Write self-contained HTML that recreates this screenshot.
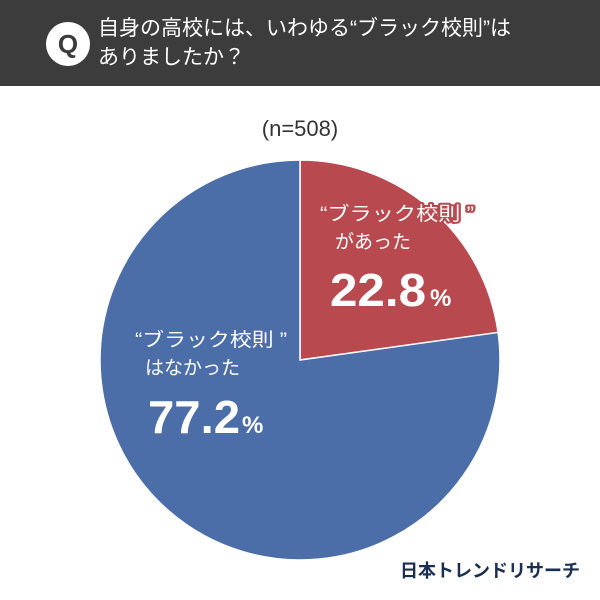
<!DOCTYPE html>
<html><head><meta charset="utf-8"><style>
body{margin:0;width:600px;height:600px;background:#fff;overflow:hidden;font-family:"Liberation Sans","Noto Sans CJK JP",sans-serif;position:relative}
.hdr{position:absolute;left:0;top:0;width:600px;height:86px;background:#3c3c3c}
.q{position:absolute;left:46px;top:22px;width:44px;height:44px;border-radius:50%;background:#fff;color:#3c3c3c;font-weight:bold;font-size:26px;text-align:center;line-height:44px}
.t{position:absolute;left:98px;top:14px;color:#fff;font-size:21px;line-height:29px}
</style></head><body>
<div class="hdr">
<div class="q">Q</div>
<div class="t">自身の高校には、いわゆる“ブラック校則”は<br>ありましたか？</div>
</div>
<svg width="600" height="600" style="position:absolute;left:0;top:0" id="c">
<text x="300" y="136" text-anchor="middle" font-size="22" fill="#333">(n=508)</text>
<g id="pie"></g>
<text x="580" y="577" text-anchor="end" font-size="18" font-weight="bold" fill="#1a2f50">日本トレンドリサーチ</text>
</svg>
<script>
const categories=["“ブラック校則”があった","“ブラック校則”はなかった"];
const values=[22.8,77.2];
const colors=["#b84a4f","#4b6ea9"];
const cx=300,cy=360,r=200;
const g=document.getElementById('pie');
const ns="http://www.w3.org/2000/svg";
const tot=values.reduce((a,b)=>a+b,0);
let a0=0;
function pt(a,rr){return [cx+rr*Math.sin(a),cy-rr*Math.cos(a)];}
values.forEach((v,i)=>{
 const a1=a0+v/tot*2*Math.PI;
 const p0=pt(a0,r),p1=pt(a1,r);
 const large=(a1-a0)>Math.PI?1:0;
 const p=document.createElementNS(ns,'path');
 p.setAttribute('d',`M${cx},${cy}L${p0[0]},${p0[1]}A${r},${r} 0 ${large} 1 ${p1[0]},${p1[1]}Z`);
 p.setAttribute('fill',colors[i]);
 p.setAttribute('stroke','#fff');p.setAttribute('stroke-width','1.5');
 
 
 g.appendChild(p);
 a0=a1;
});
function txt(x,y,s,size,w,name,len,stroke){
 const t=document.createElementNS(ns,'text');
 t.setAttribute('x',x);t.setAttribute('y',y);t.setAttribute('font-size',size);
 t.setAttribute('fill','#fff');if(w)t.setAttribute('font-weight','bold');
 if(len){t.setAttribute('textLength',len);t.setAttribute('lengthAdjust','spacingAndGlyphs');}
 if(stroke){t.setAttribute('stroke',stroke);t.setAttribute('stroke-width','4');t.setAttribute('paint-order','stroke');t.setAttribute('stroke-linejoin','round');}
 t.textContent=s;
 
 
 g.appendChild(t);return t;
}
txt(320,220,"“ブラック校則 ”",19,false,'label-yes-line1',154,colors[0]);
txt(335,248,"があった",19,false,'label-yes-line2',0,colors[0]);
txt(330,306,values[0].toFixed(1),46,true,'value-yes',96);
txt(430,306,"%",24,true,'value-yes-pct');
txt(135,346,"“ブラック校則 ”",19,false,'label-no-line1',152);
txt(145,374,"はなかった",19,false,'label-no-line2');
txt(148,433,values[1].toFixed(1),46,true,'value-no',92);
txt(242,433,"%",24,true,'value-no-pct');
</script>
</body></html>
